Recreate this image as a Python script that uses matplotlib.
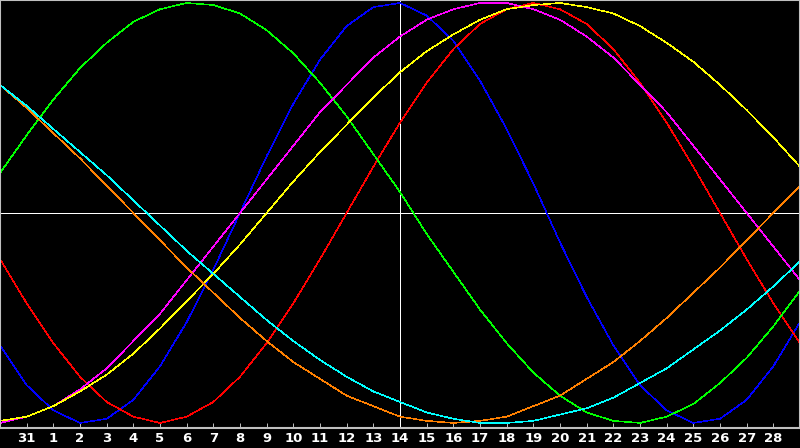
import matplotlib
matplotlib.use('Agg')
import matplotlib.pyplot as plt

# day labels under the ticks (ticks at positions 1..29)
days = ['31', '1', '2', '3', '4', '5', '6', '7', '8', '9', '10', '11', '12', '13', '14',
        '15', '16', '17', '18', '19', '20', '21', '22', '23', '24', '25', '26', '27', '28']
today = '14'

# daily values in percent, 31 points each
physical = [-63, -82, -94, -100, -98, -89, -73, -52, -27, 0, 27, 52, 73, 89, 98, 100,
            94, 82, 63, 40, 14, -14, -40, -63, -82, -94, -100, -98, -89, -73, -52]
emotional = [-22, -43, -62, -78, -90, -97, -100, -97, -90, -78, -62, -43, -22, 0, 22, 43,
             62, 78, 90, 97, 100, 97, 90, 78, 62, 43, 22, 0, -22, -43, -62]
intellectual = [19, 37, 54, 69, 81, 91, 97, 100, 99, 95, 87, 76, 62, 46, 28, 10,
                -10, -28, -46, -62, -76, -87, -95, -99, -100, -97, -91, -81, -69, -54, -37]
intuitive = [-100, -97, -92, -84, -74, -61, -48, -32, -16, 0, 16, 32, 48, 61, 74, 84,
             92, 97, 100, 100, 97, 92, 84, 74, 61, 48, 32, 16, 0, -16, -32]
aesthetic = [-99, -97, -92, -85, -77, -67, -55, -42, -29, -15, 0, 15, 29, 42, 55, 67,
             77, 85, 92, 97, 99, 100, 98, 95, 89, 81, 72, 61, 49, 36, 22]
awareness = [61, 50, 38, 26, 13, 0, -13, -26, -38, -50, -61, -71, -79, -87, -92, -97,
             -99, -100, -99, -97, -92, -87, -79, -71, -61, -50, -38, -26, -13, 0, 13]
spiritual = [61, 51, 40, 29, 18, 6, -6, -18, -29, -40, -51, -61, -70, -78, -85, -90,
             -95, -98, -100, -100, -99, -96, -93, -88, -81, -74, -65, -56, -46, -35, -23]

series = [physical, emotional, intellectual, intuitive, aesthetic, awareness, spiritual]
colors = ['#0000ff', '#ff0000', '#00ff00', '#ff00ff', '#ffff00', '#ff8000', '#00ffff']

x = list(range(len(physical)))

fig = plt.figure(figsize=(8, 4.48), dpi=100, facecolor='black')
ax = fig.add_axes([0, 20 / 448, 1, 428 / 448], facecolor='black')
ax.set_xlim(0, len(x) - 1)
ax.set_ylim(-102.4, 101.4)

ax.axhline(0, color='white', lw=0.6, antialiased=False)
ax.axvline(days.index(today) + 1, color='white', lw=0.6, antialiased=False)

for vals, c in zip(series, colors):
    ax.plot(x, vals, color=c, lw=0.4, antialiased=False)

for s in ax.spines.values():
    s.set_color('#c0c0c0')
    s.set_linewidth(1.5)

ax.set_xticks(range(1, len(days) + 1))
ax.set_xticklabels(days, color='white', fontweight='bold', fontsize=9.5)
ax.tick_params(axis='x', direction='in', length=3.6, width=0.7, color='#c0c0c0', pad=3)
ax.set_yticks([])

fig.savefig('out.png', dpi=100, facecolor='black')
